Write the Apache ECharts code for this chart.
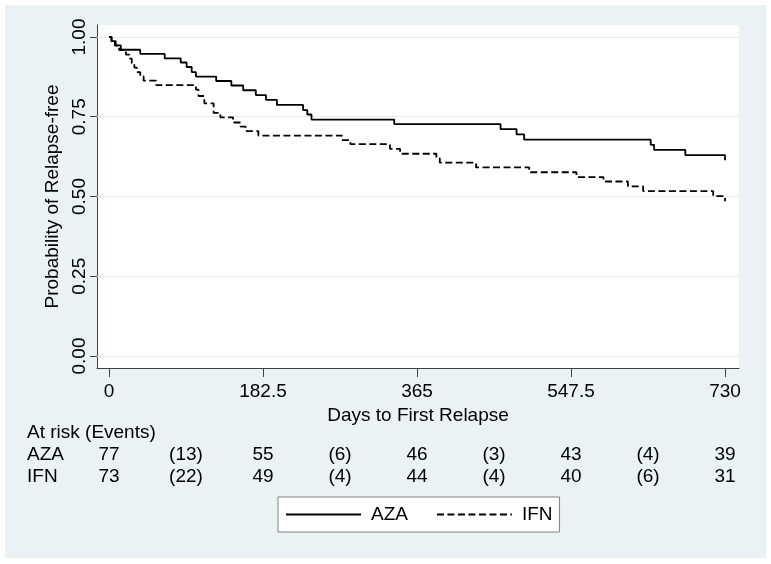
<!DOCTYPE html>
<html>
<head>
<meta charset="utf-8">
<script src="https://cdn.jsdelivr.net/npm/echarts@6/dist/echarts.min.js"></script>
<style>
html,body{margin:0;padding:0;background:#fff;}
#chart{width:771px;height:564px;}
</style>
</head>
<body>
<div id="chart"></div>
<script>
// Kaplan-Meier step data [days, survival probability after event]
var azaCurve = [[0,1],[3,0.987],[8,0.974],[14,0.960],[37,0.947],[66,0.933],[85,0.920],[92,0.906],[98,0.890],[103,0.876],[127,0.862],[145,0.848],[159,0.833],[174,0.818],[186,0.803],[199,0.787],[230,0.771],[235,0.757],[240,0.741],[338,0.727],[464,0.711],[483,0.695],[492,0.678],[642,0.662],[646,0.646],[683,0.630],[730,0.614]];
var ifnCurve = [[0,1],[3,0.986],[7,0.973],[12,0.959],[20,0.945],[24,0.932],[27,0.918],[30,0.904],[33,0.890],[37,0.877],[41,0.863],[56,0.849],[103,0.835],[106,0.815],[113,0.792],[124,0.762],[132,0.748],[147,0.732],[156,0.719],[162,0.705],[177,0.691],[276,0.677],[286,0.664],[333,0.649],[345,0.634],[388,0.620],[392,0.606],[435,0.591],[498,0.576],[554,0.561],[586,0.547],[615,0.532],[633,0.517],[716,0.501],[730,0.485]];
var xTicks = [0, 182.5, 365, 547.5, 730];
var xTickLabels = ['0', '182.5', '365', '547.5', '730'];
var yTicks = [0, 0.25, 0.5, 0.75, 1];
var yTickLabels = ['0.00', '0.25', '0.50', '0.75', '1.00'];
var riskTimes = [0, 91.25, 182.5, 273.75, 365, 456.25, 547.5, 638.75, 730];
var azaRisk = ['77', '(13)', '55', '(6)', '46', '(3)', '43', '(4)', '39'];
var ifnRisk = ['73', '(22)', '49', '(4)', '44', '(4)', '40', '(6)', '31'];
var groupNames = ['AZA', 'IFN'];

var FONT = '"Liberation Sans", Arial, sans-serif';
var chart = echarts.init(document.getElementById('chart'), null, {renderer: 'canvas'});

function lookup(vals, labels) {
  return function (v) {
    for (var i = 0; i < vals.length; i++) { if (Math.abs(vals[i] - v) < 1e-6) return labels[i]; }
    return '';
  };
}
function riskAxis(labels, offset) {
  return {
    type: 'value', gridIndex: 0, position: 'bottom', offset: offset,
    min: -14.22, max: 746.6,
    axisLine: {show: false}, axisTick: {show: false}, splitLine: {show: false},
    axisLabel: {
      customValues: riskTimes, formatter: lookup(riskTimes, labels),
      margin: 0, color: '#000', fontSize: 19, fontFamily: FONT, hideOverlap: false,
      showMinLabel: true, showMaxLabel: true
    }
  };
}

var option = {
  backgroundColor: '#ffffff',
  animation: false,
  graphic: [
    {type: 'rect', z: -10, silent: true, shape: {x: 5, y: 5, width: 761, height: 553}, style: {fill: '#EAF2F3'}},
    {type: 'text', left: 27, top: 423, style: {text: 'At risk (Events)', fill: '#000', font: '19px ' + FONT}},
    {type: 'text', left: 27, top: 445, style: {text: groupNames[0], fill: '#000', font: '19px ' + FONT}},
    {type: 'text', left: 27, top: 467, style: {text: groupNames[1], fill: '#000', font: '19px ' + FONT}}
  ],
  grid: {left: 97, top: 25, right: 32, bottom: 196, show: true, backgroundColor: '#ffffff', borderWidth: 0, containLabel: false, outerBoundsMode: 'none'},
  legend: {
    data: groupNames, left: 278, top: 497, orient: 'horizontal',
    itemWidth: 75, itemHeight: 14, itemGap: 28,
    padding: [8, 7, 8, 7],
    backgroundColor: '#ffffff', borderColor: '#808080', borderWidth: 1, borderRadius: 0,
    itemStyle: {opacity: 0},
    textStyle: {color: '#000', fontSize: 19, fontFamily: FONT, padding: [0, 0, 0, 5]},
    selectedMode: false
  },
  xAxis: [
    {
      type: 'value', min: -14.22, max: 746.6,
      name: 'Days to First Relapse', nameLocation: 'middle', nameGap: 33,
      nameTextStyle: {color: '#000', fontSize: 19, fontFamily: FONT},
      axisLine: {show: true, onZero: false, lineStyle: {color: '#404040', width: 1}},
      axisTick: {show: true, customValues: xTicks, length: 9, lineStyle: {color: '#404040'}},
      axisLabel: {customValues: xTicks, formatter: lookup(xTicks, xTickLabels), margin: 14, color: '#000', fontSize: 19, fontFamily: FONT, showMinLabel: true, showMaxLabel: true},
      splitLine: {show: false}
    },
    riskAxis(azaRisk, 77),
    riskAxis(ifnRisk, 99)
  ],
  yAxis: {
    type: 'value', min: -0.0376, max: 1.0376,
    name: 'Probability of Relapse-free', nameLocation: 'middle', nameGap: 35,
    nameTextStyle: {color: '#000', fontSize: 19, fontFamily: FONT},
    axisLine: {show: true, onZero: false, lineStyle: {color: '#404040', width: 1}},
    axisTick: {show: true, customValues: yTicks, length: 7, lineStyle: {color: '#404040'}},
    axisLabel: {customValues: yTicks, formatter: lookup(yTicks, yTickLabels), rotate: 90, margin: 8, color: '#000', fontSize: 19, fontFamily: FONT, showMinLabel: true, showMaxLabel: true},
    splitLine: {show: false}
  },
  series: [
    {
      name: groupNames[0], type: 'line', step: 'end', data: azaCurve, xAxisIndex: 0,
      symbol: 'none', showSymbol: false, z: 5,
      lineStyle: {color: '#000', width: 1.8, type: 'solid'},
      itemStyle: {color: '#000'},
      markLine: {
        silent: true, symbol: 'none', label: {show: false}, z: 1,
        lineStyle: {color: '#E1ECEF', width: 1, type: 'solid'},
        data: yTicks.map(function (v) { return {yAxis: v}; })
      }
    },
    {
      name: groupNames[1], type: 'line', step: 'end', data: ifnCurve, xAxisIndex: 0,
      symbol: 'none', showSymbol: false, z: 5,
      lineStyle: {color: '#000', width: 1.8, type: [7, 3.5]},
      itemStyle: {color: '#000'}
    }
  ]
};
chart.setOption(option);
</script>
</body>
</html>
